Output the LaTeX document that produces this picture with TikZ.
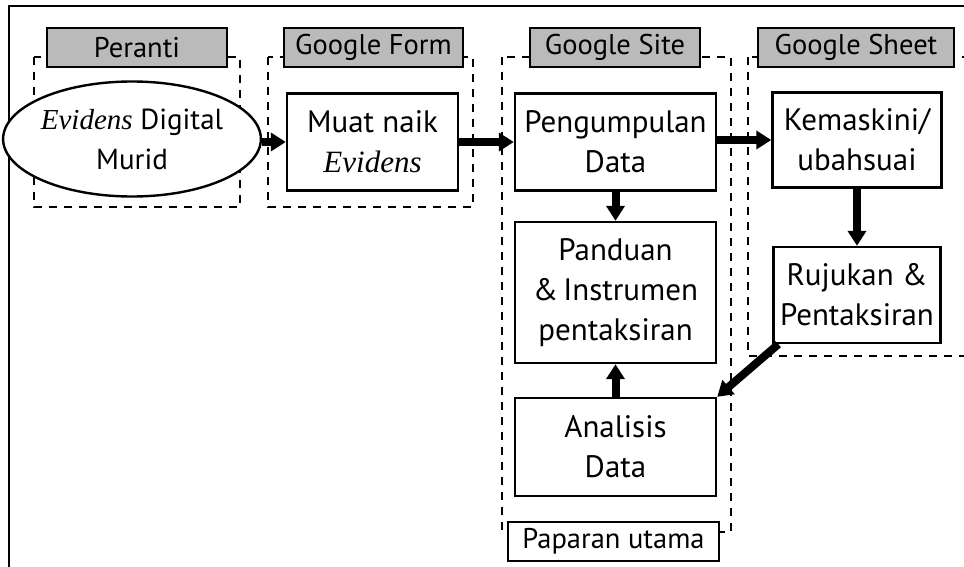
\documentclass[tikz,border=0pt]{standalone}
\usepackage{fontspec}
\setmainfont{PT Sans}
\newfontfamily\evfont{Liberation Serif}
\usetikzlibrary{arrows.meta,positioning,shapes.geometric}

\begin{document}
\begin{tikzpicture}[x=1pt,y=-1pt,
  box/.style={draw,line width=2.4pt,fill=white,align=center,inner sep=0pt,
    font=\fontsize{31}{40}\selectfont},
  hdr/.style={draw,line width=2.4pt,fill=black!27,minimum height=39pt,
    inner sep=0pt,font=\fontsize{28.5}{32}\selectfont},
  zone/.style={draw,dash pattern=on 8pt off 7pt,line width=2.2pt},
  arr/.style={line width=8pt,-{Triangle[length=15pt,width=18pt]}}]
  \useasboundingbox (0,0) rectangle (964,567);
  % frame
  \draw[line width=2.8pt] (9,575) -- (9,6) -- (975,6);

  % dashed zones
  \draw[zone] (34,57) rectangle (240,207);
  \draw[zone] (268,57) rectangle (473,207);
  \draw[zone] (502,57) rectangle (731,532);
  \draw[zone] (748,57) rectangle (980,356);

  % zone titles
  \node[hdr,minimum width=180pt] (peranti) at (137,47.5) {Peranti};
  \node[hdr,minimum width=179pt] (gform) at (373.5,47.5) {Google Form};
  \node[hdr,minimum width=170pt] (gsite) at (615,47.5) {Google Site};
  \node[hdr,minimum width=196pt] (gsheet) at (856,47.5) {Google Sheet};
  \node[hdr,fill=white,minimum width=211pt] (paparan) at (613.5,541.5) {Paparan utama};

  % steps
  \node[box,ellipse,minimum width=230pt,minimum height=115pt,
    font=\fontsize{29}{40}\selectfont] (murid) at (132,139)
    {{\evfont\itshape Evidens} Digital\\Murid};
  \node[box,minimum width=171pt,minimum height=97pt] (muat) at (372.5,142)
    {Muat naik\\{\evfont\itshape Evidens}};
  \node[box,minimum width=201pt,minimum height=97pt] (kumpul) at (615.5,142)
    {Pengumpulan\\Data};
  \node[box,minimum width=201pt,minimum height=141pt] (panduan) at (615.5,292.5)
    {Panduan\\\&\,Instrumen\\pentaksiran};
  \node[box,minimum width=201pt,minimum height=98pt] (analisis) at (615.5,447)
    {Analisis\\Data};
  \node[box,minimum width=169pt,minimum height=95pt] (kemaskini) at (857,140)
    {Kemaskini/\\ubahsuai};
  \node[box,minimum width=167pt,minimum height=96pt] (rujukan) at (857,295)
    {Rujukan \&\\Pentaksiran};

  % flow
  \draw[arr] (murid.east |- muat) -- (muat);
  \draw[arr] (muat) -- (kumpul);
  \draw[arr] (kumpul.east |- kemaskini) -- (kemaskini);
  \draw[arr] (kumpul) -- (panduan);
  \draw[arr] (kemaskini) -- (rujukan);
  \draw[arr] ([xshift=6pt]rujukan.south west) -- (analisis.north east);
  \draw[arr] (analisis) -- (panduan);
\end{tikzpicture}
\end{document}
